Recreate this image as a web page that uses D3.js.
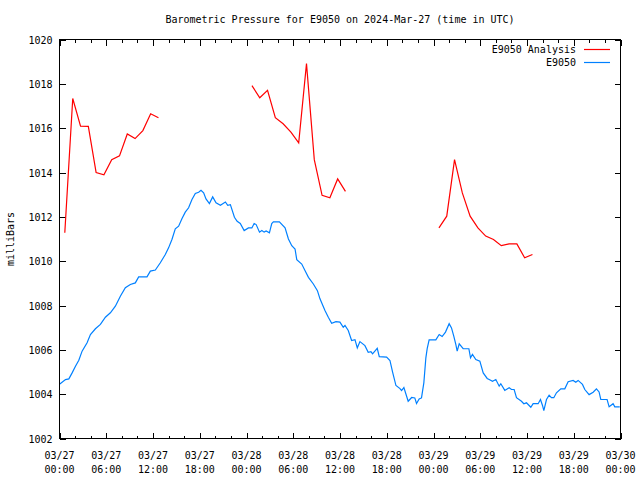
<!DOCTYPE html>
<html>
<head>
<meta charset="utf-8">
<script src="https://cdn.jsdelivr.net/npm/d3@7"></script>
<style>
  html, body { margin: 0; padding: 0; background: #fff; }
  svg { display: block; }
  text { font-family: "DejaVu Sans Mono", "Liberation Mono", monospace; font-size: 10px; fill: #000; }
</style>
</head>
<body>
<svg id="chart" width="640" height="480"></svg>
<script>
// ---------------- DATA ----------------
const titleText = "Barometric Pressure for E9050 on 2024-Mar-27 (time in UTC)";
const yLabel = "milliBars";
const seriesNames = ["E9050 Analysis", "E9050"];
const startTime = "2024-03-27T00:00:00Z";
const endTime = "2024-03-30T00:00:00Z";
const yTicks = [1002, 1004, 1006, 1008, 1010, 1012, 1014, 1016, 1018, 1020];
const xTickDates = ["03/27","03/27","03/27","03/27","03/28","03/28","03/28","03/28","03/29","03/29","03/29","03/29","03/30"];
const xTickTimes = ["00:00","06:00","12:00","18:00","00:00","06:00","12:00","18:00","00:00","06:00","12:00","18:00","00:00"];

// Analysis (hours since start; null = gap)
const analysisHours = [0.68,1.7,2.7,3.7,4.7,5.7,6.7,7.7,8.7,9.7,10.7,11.7,12.7, 18.7,
  24.7,25.7,26.7,27.7,28.7,29.7,30.7,31.7,32.7,33.7,34.7,35.7,36.7, 42.7,
  48.7,49.7,50.7,51.7,52.7,53.7,54.7,55.7,56.7,57.7,58.7,59.7,60.7];
const analysisValues = [1011.28,1017.34,1016.09,1016.08,1014.0,1013.9,1014.58,1014.75,1015.74,1015.53,1015.89,1016.65,1016.47, null,
  1017.92,1017.37,1017.71,1016.47,1016.2,1015.82,1015.34,1018.91,1014.58,1012.97,1012.86,1013.71,1013.15, null,
  1011.5,1012.03,1014.58,1013.08,1012.03,1011.5,1011.13,1010.98,1010.7,1010.78,1010.78,1010.15,1010.3];

// Station observations
const obsHours = [0.0,0.77,1.2,1.62,2.05,2.48,2.9,3.54,3.97,4.61,5.25,5.89,6.53,7.17,7.81,8.45,9.09,9.73,10.16,11.23,
  11.66,12.3,12.94,13.58,14.0,14.43,14.86,15.29,15.71,16.14,16.57,17.0,17.43,17.86,18.16,18.5,18.8,19.24,19.66,20.09,
  20.65,21.29,21.59,21.93,22.45,22.8,23.2,23.7,24.25,24.69,24.98,25.24,25.67,25.97,26.26,26.52,26.94,27.24,27.45,28.22,
  28.95,29.38,29.81,30.23,30.45,31.09,31.52,31.95,32.58,33.1,33.43,34.07,34.5,34.93,35.48,35.99,36.42,36.64,37.06,37.49,
  37.92,38.22,38.56,39.2,39.62,39.97,40.18,40.78,41.04,41.98,42.41,42.75,43.18,43.7,43.9,44.2,44.75,45.2,45.6,45.82,
  46.16,46.46,46.76,47.02,47.19,47.44,48.3,48.73,49.11,49.54,50.01,50.31,50.61,50.87,51.04,51.3,51.81,52.54,52.75,53.0,
  53.43,53.95,54.38,54.89,55.15,55.57,56.0,56.43,56.64,57.15,57.71,58.01,58.35,58.65,59.29,59.59,59.93,60.49,60.79,61.43,
  61.73,61.99,62.16,62.5,62.84,63.14,63.44,63.78,64.34,64.85,65.28,65.92,66.26,66.56,67.12,67.42,67.97,68.49,68.91,69.25,
  69.47,70.28,70.54,71.05,71.27,71.9];
const obsValues = [1004.45,1004.66,1004.69,1004.96,1005.26,1005.53,1005.94,1006.32,1006.69,1006.95,1007.15,1007.47,1007.67,1007.97,1008.42,1008.8,1008.95,1009.02,1009.29,1009.29,
  1009.55,1009.6,1009.93,1010.3,1010.6,1010.98,1011.46,1011.58,1011.91,1012.21,1012.41,1012.78,1013.05,1013.11,1013.2,1013.08,1012.81,1012.6,1012.9,1012.63,
  1012.52,1012.67,1012.52,1012.55,1011.98,1011.8,1011.7,1011.38,1011.5,1011.5,1011.7,1011.65,1011.31,1011.38,1011.31,1011.36,1011.28,1011.7,1011.77,1011.77,
  1011.5,1011.0,1010.7,1010.55,1010.07,1009.87,1009.57,1009.27,1008.97,1008.67,1008.3,1007.77,1007.47,1007.2,1007.27,1007.25,1007.02,1007.1,1006.87,1006.42,
  1006.46,1006.09,1006.37,1006.19,1005.89,1005.92,1005.82,1006.07,1005.69,1005.67,1005.52,1004.99,1004.39,1004.25,1004.16,1004.3,1003.68,1003.85,1003.83,1003.58,
  1003.78,1003.83,1004.51,1005.64,1006.05,1006.45,1006.45,1006.69,1006.6,1006.8,1007.18,1006.99,1006.61,1006.24,1005.94,1006.27,1006.05,1006.05,1005.64,1005.79,
  1005.56,1005.49,1004.96,1004.71,1004.66,1004.58,1004.66,1004.36,1004.47,1004.17,1004.29,1004.21,1004.21,1003.84,1003.68,1003.57,1003.61,1003.41,1003.57,1003.57,
  1003.76,1003.49,1003.26,1003.76,1003.95,1003.84,1003.84,1004.06,1004.24,1004.24,1004.56,1004.62,1004.54,1004.62,1004.44,1004.21,1003.98,1004.09,1004.24,1004.1,
  1003.76,1003.76,1003.43,1003.57,1003.43,1003.43];

const seriesColors = ["#ff0000", "#0080ff"];

// ---------------- CHART ----------------
const svg = d3.select("#chart");
const L = 59.5, R = 620.5, T = 39.5, B = 438.5;
const t0 = new Date(startTime), t1 = new Date(endTime);
const hourToDate = h => new Date(t0.getTime() + h * 3600000);

const x = d3.scaleUtc().domain([t0, t1]).range([L, R]);
const y = d3.scaleLinear().domain([1002, 1020]).range([B, T]);

const majorTicks = d3.utcHour.every(6).range(t0, new Date(t1.getTime() + 1));
const minorTicks = d3.utcHour.every(2).range(t0, new Date(t1.getTime() + 1))
  .filter(d => d.getUTCHours() % 6 !== 0);

function tickAxis(axisFn, pos, scale, values, size) {
  const g = svg.append("g").attr("transform", pos)
    .call(axisFn(scale).tickValues(values).tickSize(size).tickFormat(""));
  g.select(".domain").remove();
  g.selectAll(".tick line").attr("stroke", "#000").attr("stroke-width", 1).attr("shape-rendering", "crispEdges");
  return g;
}
// x ticks bottom/top
tickAxis(d3.axisBottom, `translate(0,${B})`, x, majorTicks, -6);
tickAxis(d3.axisBottom, `translate(0,${B})`, x, minorTicks, -3);
tickAxis(d3.axisTop, `translate(0,${T})`, x, majorTicks, -6);
tickAxis(d3.axisTop, `translate(0,${T})`, x, minorTicks, -3);
// y ticks left/right
tickAxis(d3.axisLeft, `translate(${L},0)`, y, yTicks, -6);
tickAxis(d3.axisRight, `translate(${R},0)`, y, yTicks, -6);

// y tick labels
svg.append("g").selectAll("text").data(yTicks).join("text")
  .attr("x", L - 7).attr("y", d => y(d) + 4)
  .attr("text-anchor", "end").text(d => d);

// x tick labels
const xl = svg.append("g");
majorTicks.forEach((d, i) => {
  xl.append("text").attr("x", x(d)).attr("y", 459).attr("text-anchor", "middle").text(xTickDates[i]);
  xl.append("text").attr("x", x(d)).attr("y", 473).attr("text-anchor", "middle").text(xTickTimes[i]);
});

// title
svg.append("text").attr("x", (L + R) / 2).attr("y", 23).attr("text-anchor", "middle").text(titleText);

// y label
svg.append("text").attr("transform", `translate(14,${(T + B) / 2}) rotate(-90)`)
  .attr("text-anchor", "middle").text(yLabel);

// lines
const line = d3.line()
  .defined(d => d.v !== null)
  .x(d => x(d.t)).y(d => y(d.v));

const analysisData = analysisHours.map((h, i) => ({ t: hourToDate(h), v: analysisValues[i] }));
const obsData = obsHours.map((h, i) => ({ t: hourToDate(h), v: obsValues[i] }));

svg.append("path").datum(obsData).attr("d", line)
  .attr("fill", "none").attr("stroke", seriesColors[1]).attr("stroke-width", 1.2);
svg.append("path").datum(analysisData).attr("d", line)
  .attr("fill", "none").attr("stroke", seriesColors[0]).attr("stroke-width", 1.2);

// frame
svg.append("rect").attr("x", L).attr("y", T).attr("width", R - L).attr("height", B - T)
  .attr("fill", "none").attr("stroke", "#000").attr("stroke-width", 1).attr("shape-rendering", "crispEdges");

// legend
const legendRows = [49, 62];
seriesNames.forEach((name, i) => {
  svg.append("text").attr("x", 576).attr("y", legendRows[i] + 4).attr("text-anchor", "end").text(name);
  svg.append("line").attr("x1", 584).attr("x2", 610).attr("y1", legendRows[i] + 0.5).attr("y2", legendRows[i] + 0.5)
    .attr("stroke", seriesColors[i]).attr("stroke-width", 1.2);
});
</script>
</body>
</html>
